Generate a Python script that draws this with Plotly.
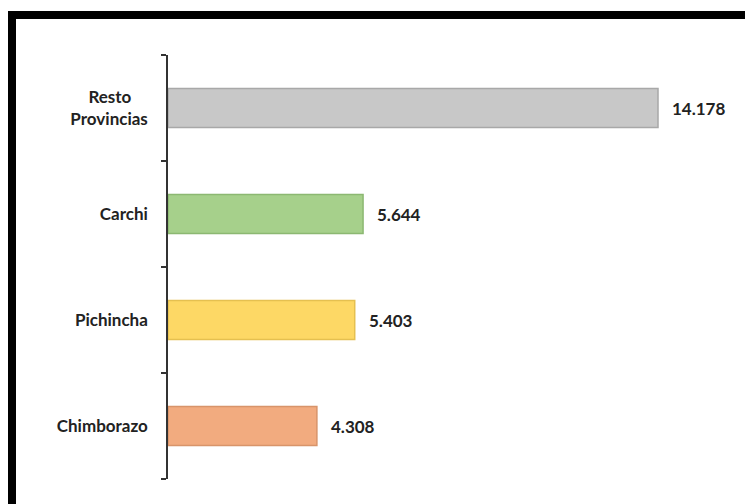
import plotly.graph_objects as go

categories = ["Chimborazo", "Pichincha", "Carchi", "Resto\u00a0\u00a0\u00a0\u00a0<br>Provincias"]
values = [4.308, 5.403, 5.644, 14.178]
value_labels = ["4.308", "5.403", "5.644", "14.178"]
fill_colors = ["#f2ab7f", "#fdd865", "#a6d08b", "#c8c8c8"]
edge_colors = ["#d8946a", "#e5c050", "#8cb872", "#a8a8a8"]

W, H = 745, 504
L, R, T, B = 168, 15, 55, 25
pw, ph = W - L - R, H - T - B

fig = go.Figure()
fig.add_trace(go.Bar(
    x=values, y=categories, orientation="h",
    marker=dict(color=fill_colors, line=dict(color=edge_colors, width=1.5)),
    hoverinfo="skip",
))

for v, c, t in zip(values, categories, value_labels):
    fig.add_annotation(x=v, y=c, text=t, showarrow=False, xanchor="left",
                       xshift=12, font=dict(family="Lato", size=17, color="#222222",
                                            weight="bold"))

def px_x(p):
    return (p - L) / pw

def px_y(p):
    return (H - B - p) / ph

# black frame (top and left bands)
fig.add_shape(type="rect", xref="paper", yref="paper",
              x0=px_x(8), x1=px_x(745), y0=px_y(19), y1=px_y(11),
              fillcolor="black", line=dict(width=0), layer="above")
fig.add_shape(type="rect", xref="paper", yref="paper",
              x0=px_x(8), x1=px_x(16), y0=px_y(504), y1=px_y(11),
              fillcolor="black", line=dict(width=0), layer="above")

fig.update_layout(
    width=W, height=H,
    margin=dict(l=L, r=R, t=T, b=B, autoexpand=False),
    paper_bgcolor="white", plot_bgcolor="white",
    bargap=0.632, showlegend=False,
    font=dict(family="Lato", size=17, color="#222222", weight="bold"),
    xaxis=dict(range=[0, pw / (659 - 169) * 14.178], visible=False, fixedrange=True),
    yaxis=dict(showline=True, linecolor="#333333", linewidth=1.5,
               ticks="outside", tickson="boundaries", ticklen=5, tickcolor="#333333",
               tickwidth=1.5, ticklabelstandoff=15, range=[-0.5, 3.5],
               tickfont=dict(family="Lato", size=17, color="#222222", weight="bold"),
               showgrid=False, fixedrange=True),
)

fig.write_html("out.html", config={"displayModeBar": False},
               post_script="document.body.style.margin='0';")
